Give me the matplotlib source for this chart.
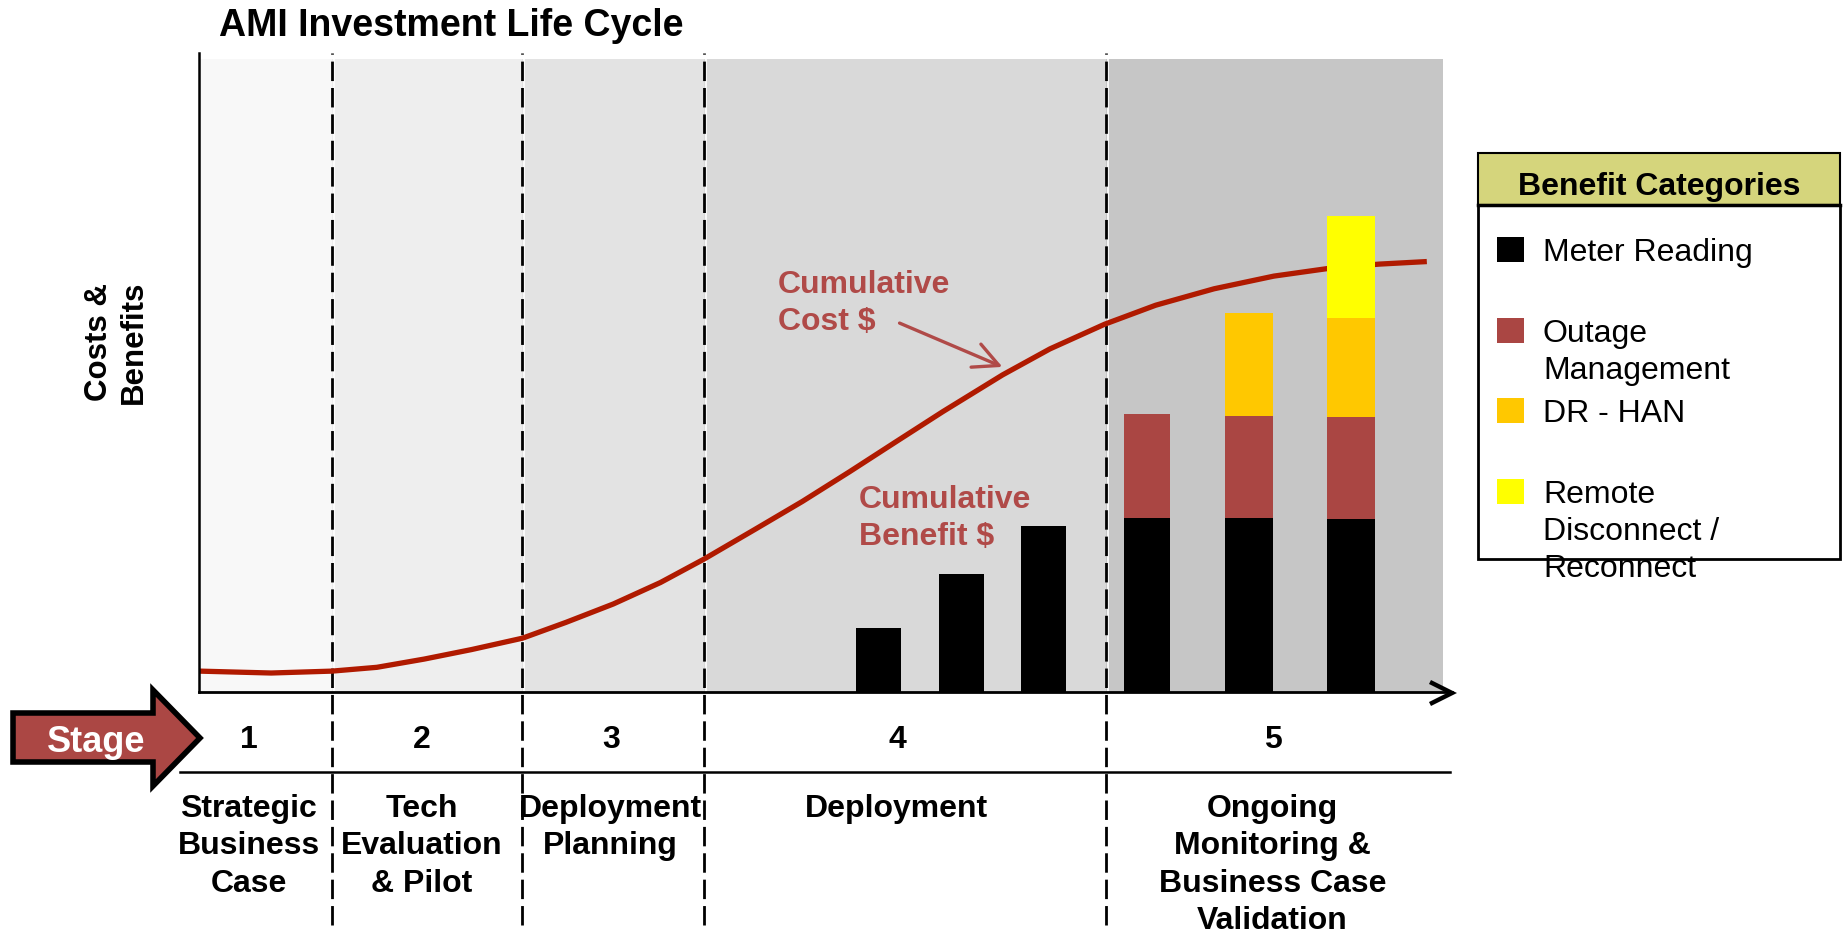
import matplotlib
matplotlib.use("Agg")
import matplotlib.pyplot as plt
from matplotlib.patches import Rectangle, Polygon
from matplotlib.transforms import blended_transform_factory

plt.rcParams['font.family'] = ['Liberation Sans', 'DejaVu Sans']
plt.rcParams['lines.scale_dashes'] = False

# stages of the life cycle (x in % of the time axis)
stage_edges = [0, 10.7, 26.0, 40.6, 72.9, 100]
stage_nums = ['1', '2', '3', '4', '5']
stage_names = ['Strategic\nBusiness\nCase', 'Tech\nEvaluation\n& Pilot',
               'Deployment\nPlanning', 'Deployment',
               'Ongoing\nMonitoring &\nBusiness Case\nValidation']
stage_label_x = [4.0, 17.9, 33.1, 56.1, 86.3]
stage_colors = ['#f8f8f8', '#eeeeee', '#e3e3e3', '#d9d9d9', '#c6c6c6']

# cumulative cost curve
cost_x = [0.0, 5.8, 10.7, 14.3, 18.1, 21.9, 26.0, 29.5, 33.3, 37.1, 40.6,
          44.7, 48.5, 52.3, 56.0, 59.8, 64.6, 68.4, 72.8, 76.9, 81.6, 86.4,
          91.1, 94.9, 98.7]
cost_y = [3.3, 3.0, 3.3, 3.9, 5.2, 6.7, 8.5, 11.0, 13.9, 17.3, 21.0,
          25.7, 30.1, 34.8, 39.5, 44.3, 50.1, 54.2, 58.1, 61.1, 63.7, 65.7,
          67.0, 67.6, 68.0]

# cumulative benefit bars
bar_x = [54.6, 61.3, 67.9, 76.2, 84.4, 92.6]
bar_w = [3.6, 3.6, 3.6, 3.7, 3.8, 3.9]
meter = [10.1, 18.6, 26.2, 27.5, 27.5, 27.4]
outage = [0, 0, 0, 16.4, 16.1, 16.0]
dr_han = [0, 0, 0, 0, 16.3, 15.7]
remote = [0, 0, 0, 0, 0, 16.1]

categories = ['Meter Reading', 'Outage\nManagement', 'DR - HAN',
              'Remote\nDisconnect /\nReconnect']
cat_colors = ['#000000', '#aa4643', '#ffc800', '#ffff00']

red_txt = '#b04a48'
curve_col = '#b01a00'

fig = plt.figure(figsize=(18.49, 9.32), dpi=100)

# main chart area
ax = fig.add_axes([199 / 1849, 240 / 932, 1244 / 1849, 633 / 932])
ax.set_xlim(0, 100)
ax.set_ylim(0, 100)
ax.axis('off')

# overlay in pixel units for the surrounding diagram pieces
lay = fig.add_axes([0, 0, 1, 1], zorder=3)
lay.set_xlim(0, 1849)
lay.set_ylim(932, 0)
lay.axis('off')

for i in range(5):
    ax.axvspan(stage_edges[i], stage_edges[i + 1], 0, 1,
               color=stage_colors[i], lw=0, zorder=0)
for x in stage_edges[1:-1]:
    ax.axvline(x + 0.14, 0, 1, color='white', lw=1.2, zorder=0.5)
    ax.axvline(x, -0.368, 1.009, color='black', lw=2,
               dashes=(14, 5), clip_on=False, zorder=1)

ax.axvline(0, 0, 1.009, color='black', lw=1.8, clip_on=False, zorder=4)
ax.plot([0, 100.7], [0, 0], color='black', lw=2, clip_on=False, zorder=4)
lay.plot([1430, 1452, 1430], [682, 693, 704], color='black', lw=3.2,
         solid_joinstyle='miter', solid_capstyle='butt')

ax.plot(cost_x, cost_y, color=curve_col, lw=3.8, zorder=2,
        solid_capstyle='butt', solid_joinstyle='round')

bottom = [0] * len(bar_x)
for vals, col in zip([meter, outage, dr_han, remote], cat_colors):
    ax.bar(bar_x, vals, width=bar_w, bottom=bottom, color=col, lw=0,
           zorder=3)
    bottom = [b + v for b, v in zip(bottom, vals)]

# title and y label
lay.text(219, 36, 'AMI Investment Life Cycle', fontsize=27, weight='bold',
         va='baseline', ha='left')
lay.text(99, 342, 'Costs &', rotation=90, fontsize=22.5, weight='bold',
         ha='center', va='center')
lay.text(134, 342, 'Benefits', rotation=90, fontsize=22.5, weight='bold',
         ha='center', va='center')

# annotations
for k, line in enumerate(['Cumulative', 'Cost $']):
    lay.text(778, 293 + 37 * k, line, color=red_txt, fontsize=23,
             weight='bold', va='baseline')
for k, line in enumerate(['Cumulative', 'Benefit $']):
    lay.text(859, 508 + 37 * k, line, color=red_txt, fontsize=23,
             weight='bold', va='baseline')
lay.annotate('', xy=(1005, 368), xytext=(897, 322),
             arrowprops=dict(arrowstyle='->,head_length=0.9,head_width=0.45',
                             color=red_txt, lw=2.4, mutation_scale=20))

# stage arrow
lay.add_patch(Polygon([(13, 713), (153, 713), (153, 690), (200, 738),
                       (153, 786), (153, 762), (13, 762)], closed=True,
                      facecolor='#ab4744', edgecolor='black', lw=4,
                      joinstyle='miter'))
lay.text(96, 752, 'Stage', color='white', fontsize=26, weight='bold',
         ha='center', va='baseline')

# stage numbers and names
tr = blended_transform_factory(ax.transData, lay.transData)
lay.plot([180, 1450], [772, 772], color='black', lw=1.8)
for i in range(5):
    ax.text(stage_label_x[i], 748, stage_nums[i], transform=tr, fontsize=23,
            weight='bold', ha='center', va='baseline', clip_on=False)
    for k, line in enumerate(stage_names[i].split('\n')):
        ax.text(stage_label_x[i], 817 + 37.3 * k, line, transform=tr,
                fontsize=23, weight='bold', ha='center', va='baseline',
                clip_on=False)

# legend box
lay.add_patch(Rectangle((1478, 205), 362, 354, facecolor='white',
                        edgecolor='black', lw=2))
lay.add_patch(Rectangle((1478, 153), 362, 52, facecolor='#d5d57c',
                        edgecolor='black', lw=1.5))
lay.plot([1478, 1840], [205, 205], color='black', lw=2.5)
lay.text(1659, 195, 'Benefit Categories', fontsize=23, weight='bold',
         ha='center', va='baseline')
item_top = [237, 318, 398, 479]
for name, col, top in zip(categories, cat_colors, item_top):
    lay.add_patch(Rectangle((1497, top), 27, 25, facecolor=col, lw=0))
    for k, line in enumerate(name.split('\n')):
        lay.text(1543, top + 24 + 37 * k, line, fontsize=23,
                 va='baseline', ha='left')

fig.savefig('out.png', dpi=100, facecolor='white')
